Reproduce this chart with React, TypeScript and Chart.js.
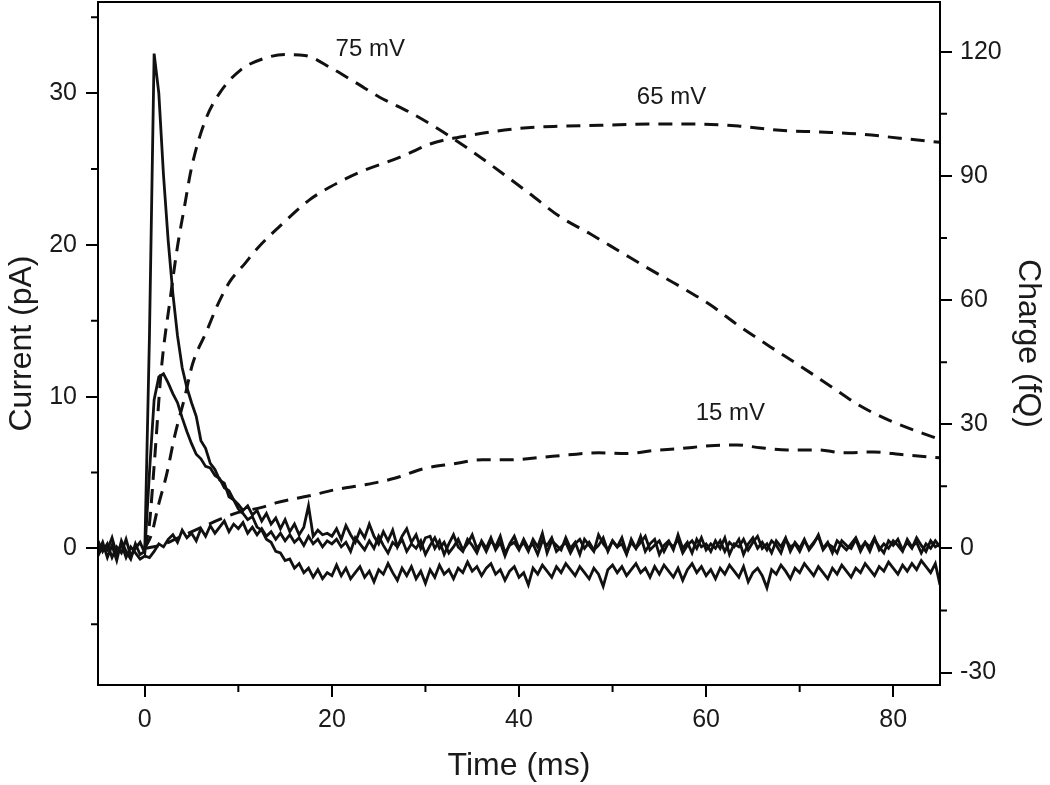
import React, { useEffect, useRef } from 'react';
import { Chart, registerables } from 'chart.js';

Chart.register(...registerables);

// sampling of the current traces (ms)
const T_START = -5;
const T_STEP = 0.5;

// Current traces (pA), one value every 0.5 ms from -5 to 85 ms
const CURRENT_75 = [
  -0.3, 0.4, -0.6, 0.2, -0.8, 0.5, -0.2, -0.7, 0.3, -0.4,
  -0.2, 14.0, 32.6, 30.0, 24.6, 20.3, 16.8, 14.0, 11.9, 10.6,
  9.6, 8.7, 7.1, 6.6, 5.6, 5.2, 4.5, 4.3, 3.4, 3.2,
  2.6, 2.3, 1.9, 2.1, 1.4, 1.2, 0.6, 0.4, -0.2, -0.3,
  -0.8, -0.7, -1.3, -1.0, -1.6, -1.3, -1.9, -1.4, -2.0, -1.6,
  -1.8,
  -1.1, -1.8, -1.3, -2.0, -1.6, -1.2, -1.9, -1.5, -2.2, -1.4,
  -1.7, -1.0, -1.6, -2.1, -1.3, -1.8, -1.2, -2.0, -1.5, -2.3,
  -1.4, -1.9, -1.1, -1.7, -1.4, -2.0, -1.3, -1.6, -0.9, -1.5,
  -1.2, -1.8, -1.3, -1.0, -1.7, -1.4, -2.1, -1.5, -1.2, -1.9,
  -1.6, -2.4, -1.3, -1.7, -1.1, -1.5, -1.9, -1.2, -1.6, -1.0,
  -1.4, -1.8, -1.2, -1.6, -2.0, -1.3, -1.7, -2.5, -1.4, -1.1,
  -1.6, -1.2, -1.8, -1.4, -1.0, -1.6, -1.3, -1.9, -1.2, -1.7,
  -1.1, -1.5, -1.9, -1.3, -2.1, -1.4, -1.0, -1.6, -1.2, -1.8,
  -1.4, -2.0, -1.3, -1.7, -1.1, -1.5, -1.9, -1.2, -2.2, -1.6,
  -1.3, -1.8, -2.6, -1.4, -1.7, -1.1, -1.5, -2.0, -1.3, -1.6,
  -1.0, -1.4, -1.8, -1.2, -1.6, -2.0, -1.3, -1.7, -1.1, -1.5,
  -1.9, -1.3, -1.6, -1.0, -1.4, -1.8, -1.2, -1.5, -0.9, -1.3,
  -1.7, -1.1, -1.5, -1.0, -1.4, -0.8, -1.2, -1.6, -1.0, -2.4,
];

const CURRENT_65 = [
  0.5, -0.2, 0.3, -0.6, 0.1, -0.3, 0.6, -0.5, 0.0, 0.4,
  -0.3, 5.0, 9.8, 11.3, 11.5, 10.9, 10.2, 9.6, 8.6, 7.7,
  6.9, 6.2, 5.9, 5.4, 5.3, 4.8, 4.6, 4.0, 3.8, 3.2,
  2.9, 2.5, 2.8, 2.2, 2.5, 1.8, 2.3, 1.6, 2.0, 1.3,
  1.9, 1.1, 1.6, 0.9, 1.4, 2.8, 0.8, 1.2, 0.9, 1.0,
  0.8,
  1.3, 0.6, 1.5, 0.9, 0.4, 1.2, 0.7, 1.6, 0.8, 0.3,
  1.1, 0.5, 1.2, 0.1, 0.8, 1.3, 0.4, 0.9, 0.0, 0.7,
  0.8, 0.0, 0.5, -0.4, 0.3, 0.9, 0.1, -0.2, 0.6, 0.2,
  -0.3, 0.5, 0.0, 0.7, -0.1, 0.4, -0.5, 0.3, 0.8, 0.0,
  0.4, -0.2, 0.6, 0.1, 1.0, -0.3, 0.5, 0.2, -0.1, 0.7,
  0.0, 0.4, -0.4, 0.6, 0.2, -0.2, 0.9, 0.3, -0.1, 0.5,
  0.1, 0.7, -0.3, 0.4, 0.0, 0.8, -0.2, 0.3, 0.6, -0.4,
  0.2, 0.5, -0.1, 0.9, 0.0, 0.4, -0.3, 0.6, 0.1, 0.3,
  -0.2, 0.5, 0.0, 0.7, -0.4, 0.3, 0.1, 0.6, -0.1, 0.4,
  0.8, 0.0, 0.3, -0.3, 0.5, 0.1, 0.7, -0.2, 0.4, 0.0,
  0.6, -0.1, 0.3, 0.9, 0.0, 0.4, -0.3, 0.5, 0.2, -0.1,
  0.3, 0.7, 0.0, 0.4, -0.2, 0.6, 0.1, -0.3, 0.5, 0.2,
  0.6, -0.1, 0.4, 0.0, 0.7, 0.2, -0.2, 0.5, 0.1, 0.3,
];

const CURRENT_15 = [
  -0.5, 0.2, -0.1, 0.7, -0.4, 0.3, -0.6, 0.1, -0.3, -0.7,
  -0.5, -0.6, -0.2, 0.3, 0.1, 0.6, 0.9, 0.4, 1.2, 0.7,
  1.0, 0.5, 1.3, 0.8, 1.5, 1.0, 1.4, 1.8, 1.1, 1.6,
  1.3, 1.7, 1.0, 1.4, 0.9, 1.3, 0.8, 1.1, 0.6, 1.0,
  0.5, 0.9, 0.4, 0.7, 0.2, 0.8, 0.3, 0.6, 0.1, 0.5,
  0.3,
  0.6, 0.1, 0.4, -0.2, 0.7, 0.3, -0.1, 0.5, 0.0, 0.8,
  0.2, -0.3, 0.4, 0.1, 0.6, -0.2, 0.3, 0.0, 0.5, -0.4,
  0.2, 0.7, 0.0, 0.4, -0.3, 0.1, 0.6, -0.1, 0.3, 0.9,
  0.0, 0.4, -0.2, 0.5, 0.1, 0.8, -0.3, 0.2, 0.4, -0.1,
  0.6, 0.0, 0.3, -0.4, 0.5, 0.2, 0.7, -0.2, 0.1, 0.4,
  -0.3, 0.3, 0.6, 0.0, 0.4, -0.1, 0.2, 0.7, -0.2, 0.5,
  0.1, 0.3, -0.4, 0.6, 0.0, 0.4, 0.8, -0.1, 0.2, 0.5,
  -0.2, 0.4, 0.1, 0.6, -0.3, 0.2, 0.5, 0.0, 0.7, -0.1,
  0.3, 0.0, 0.5, -0.2, 0.4, 0.1, 0.6, -0.4, 0.3, 0.7,
  0.0, 0.4, -0.1, 0.5, 0.2, -0.3, 0.6, 0.1, 0.3, -0.2,
  0.5, 0.0, 0.4, 0.8, -0.1, 0.3, 0.1, -0.3, 0.5, 0.2,
  0.0, 0.6, -0.2, 0.4, 0.1, 0.7, -0.1, 0.3, 0.0, 0.5,
  0.2, -0.2, 0.6, 0.1, 0.4, -0.3, 0.3, 0.0, 0.5, 0.1,
];

// Charge curves (fQ)
const Q75_T = [0, 0.5, 1.0, 1.8, 2.7, 3.5, 4.2, 5.0, 6.4, 8.0, 10.2, 12.8, 15.0, 17.1, 19.8, 22.5, 25.1, 28.3, 31.6, 34.8, 38.0, 41.2, 44.4, 47.6, 50.8, 54.0, 57.2, 60.4, 63.6, 66.8, 70.1, 73.3, 76.5, 79.7, 85];
const Q75 = [0, 6, 20, 44, 60, 73, 82, 92, 103, 110, 115.5, 118.4, 119.3, 119.1, 116.2, 112.6, 109, 105.4, 101, 96.2, 91, 85.6, 80.1, 76, 71.7, 67.4, 63.3, 58.9, 53.6, 48.8, 44, 39.2, 34.4, 30.8, 26.3];

const Q65_T = [0, 0.75, 1.4, 2.35, 3.2, 4.3, 5.1, 6.6, 7.8, 9.1, 10.7, 12.0, 14.7, 17.6, 19.8, 23.0, 27.3, 30.5, 34.8, 40.1, 44.4, 48.7, 54.0, 59.4, 63.6, 67.9, 72.2, 76.5, 80.7, 85];
const Q65 = [0, 3.6, 9.9, 18, 27.2, 36.8, 44.5, 52.4, 58.9, 64.5, 68.8, 72.4, 78.4, 84.2, 87.3, 90.9, 94.5, 97.7, 99.8, 101.5, 102, 102.2, 102.5, 102.5, 102, 101, 100.6, 100.1, 99.1, 98.1];

const Q15_T = [0, 2, 4, 6, 8, 10, 12.5, 14, 17.6, 20.4, 23.6, 26.8, 29.7, 32.9, 36.1, 39.0, 42.0, 45.3, 48.5, 51.5, 54.3, 57.2, 60.4, 63.3, 65.8, 68.7, 71.9, 74.7, 77.9, 81.1, 85];
const Q15 = [0, 1, 3, 5, 7, 8.7, 9.9, 11, 12.7, 14.2, 15.4, 17, 19.2, 20.4, 21.4, 21.4, 21.9, 22.6, 23.1, 22.9, 23.6, 24.1, 24.8, 25.0, 24.3, 23.8, 23.8, 23.1, 23.3, 22.6, 21.9];

// Axes
const X_TICKS = [0, 20, 40, 60, 80];
const X_MINOR = [10, 30, 50, 70];
const LEFT_TICKS = [0, 10, 20, 30];
const LEFT_MINOR = [-5, 5, 15, 25, 35];
const RIGHT_TICKS = [-30, 0, 30, 60, 90, 120];
const RIGHT_MINOR = [-15, 15, 45, 75, 105];

// Curve labels (anchored in time / charge units)
const LABEL_TEXT = ['75 mV', '65 mV', '15 mV'];
const LABEL_T = [24.1, 56.3, 62.6];
const LABEL_Q = [120.5, 109, 32.7];

const FONT = '"Liberation Sans", Arial, Helvetica, sans-serif';
const INK = '#1a1a1a';

const currentPoints = (arr: number[]) => arr.map((v, i) => ({ x: T_START + i * T_STEP, y: v }));
const chargePoints = (ts: number[], vs: number[]) => ts.map((t, i) => ({ x: t, y: vs[i] }));

const decor = {
  id: 'decor',
  afterDatasetsDraw(chart: any) {
    const { ctx, chartArea: a, scales } = chart;
    ctx.save();
    ctx.strokeStyle = '#000';
    ctx.lineWidth = 2;
    ctx.strokeRect(a.left, a.top, a.right - a.left, a.bottom - a.top);
    ctx.beginPath();
    X_MINOR.forEach((v) => {
      const x = scales.x.getPixelForValue(v);
      ctx.moveTo(x, a.bottom);
      ctx.lineTo(x, a.bottom + 7);
    });
    LEFT_MINOR.forEach((v) => {
      const y = scales.y.getPixelForValue(v);
      ctx.moveTo(a.left, y);
      ctx.lineTo(a.left - 7, y);
    });
    RIGHT_MINOR.forEach((v) => {
      const y = scales.y2.getPixelForValue(v);
      ctx.moveTo(a.right, y);
      ctx.lineTo(a.right + 7, y);
    });
    ctx.stroke();
    ctx.fillStyle = INK;
    ctx.font = `24px ${FONT}`;
    ctx.textAlign = 'center';
    ctx.textBaseline = 'middle';
    LABEL_TEXT.forEach((s, i) => {
      ctx.fillText(s, scales.x.getPixelForValue(LABEL_T[i]), scales.y2.getPixelForValue(LABEL_Q[i]));
    });
    ctx.restore();
  },
};

export default function App() {
  const ref = useRef<HTMLCanvasElement>(null);

  useEffect(() => {
    if (!ref.current) return;
    const solid = (data: any[]) => ({
      data,
      yAxisID: 'y',
      borderColor: '#111',
      borderWidth: 2.8,
      pointRadius: 0,
      tension: 0,
      fill: false,
    });
    const dashed = (data: any[]) => ({
      data,
      yAxisID: 'y2',
      borderColor: '#111',
      borderWidth: 3,
      borderDash: [14, 9],
      pointRadius: 0,
      cubicInterpolationMode: 'monotone',
      fill: false,
    });
    const tickFont = { size: 25, family: FONT };
    const titleFont = { size: 32, family: FONT };
    const grid = {
      drawOnChartArea: false,
      drawTicks: true,
      tickLength: 12,
      lineWidth: 2,
      color: '#000',
    };
    const chart = new Chart(ref.current, {
      type: 'line',
      data: {
        datasets: [
          solid(currentPoints(CURRENT_15)),
          solid(currentPoints(CURRENT_65)),
          solid(currentPoints(CURRENT_75)),
          dashed(chargePoints(Q15_T, Q15)),
          dashed(chargePoints(Q65_T, Q65)),
          dashed(chargePoints(Q75_T, Q75)),
        ] as any,
      },
      options: {
        animation: false,
        responsive: false,
        layout: { padding: { top: 2, left: 0, right: 0, bottom: 0 } },
        plugins: { legend: { display: false }, tooltip: { enabled: false } },
        scales: {
          x: {
            type: 'linear',
            min: -5,
            max: 85,
            afterBuildTicks: (s: any) => { s.ticks = X_TICKS.map((v) => ({ value: v })); },
            afterFit: (s: any) => { s.height = 100; s.paddingLeft = 0; s.paddingRight = 0; },
            ticks: { font: tickFont, color: INK, padding: 8, maxRotation: 0, autoSkip: false },
            grid,
            border: { display: false },
            title: { display: true, text: 'Time (ms)', font: titleFont, color: INK, padding: { top: 0, bottom: 0 } },
          },
          y: {
            type: 'linear',
            position: 'left',
            min: -9,
            max: 36,
            afterBuildTicks: (s: any) => { s.ticks = LEFT_TICKS.map((v) => ({ value: v })); },
            afterFit: (s: any) => { s.width = 98; s.paddingTop = 0; s.paddingBottom = 0; },
            ticks: { font: tickFont, color: INK, padding: 9 },
            grid,
            border: { display: false },
            title: { display: true, text: 'Current (pA)', font: titleFont, color: INK, padding: { top: 3, bottom: 0 } },
          },
          y2: {
            type: 'linear',
            position: 'right',
            min: -33,
            max: 132,
            afterBuildTicks: (s: any) => { s.ticks = RIGHT_TICKS.map((v) => ({ value: v })); },
            afterFit: (s: any) => { s.width = 110; s.paddingTop = 0; s.paddingBottom = 0; },
            ticks: { font: tickFont, color: INK, padding: 8 },
            grid,
            border: { display: false },
            title: { display: true, text: 'Charge (fQ)', font: titleFont, color: INK, padding: { top: 3, bottom: 0 } },
          },
        },
      } as any,
      plugins: [decor],
    });
    return () => chart.destroy();
  }, []);

  return (
    <div style={{ position: 'absolute', left: 0, top: 0, width: 1050, height: 785, background: '#fff' }}>
      <canvas ref={ref} width={1050} height={785} style={{ display: 'block' }} />
    </div>
  );
}
